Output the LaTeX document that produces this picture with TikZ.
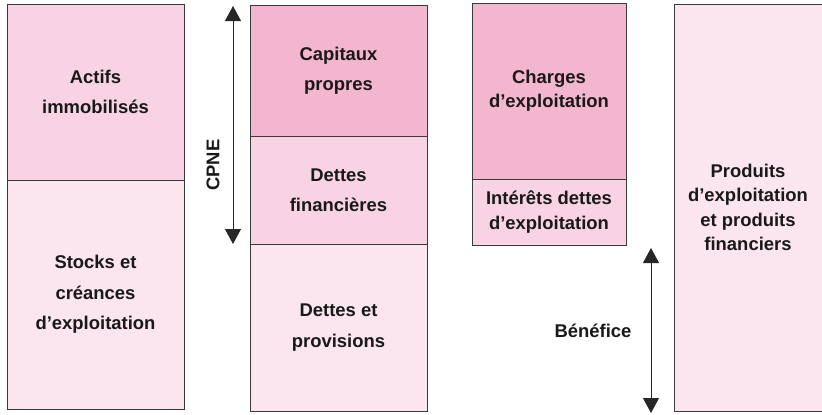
\documentclass[tikz,border=0pt]{standalone}
\usepackage{fontspec}
\setmainfont{Liberation Sans}
\usetikzlibrary{arrows.meta}
\definecolor{pinkA}{HTML}{F4B5CE}
\definecolor{pinkB}{HTML}{F8D3E4}
\definecolor{pinkC}{HTML}{FBE5EF}
\definecolor{edge}{HTML}{3A3A3A}
\tikzset{
  boxstyle/.style={draw=edge, line width=0.9bp, inner sep=0pt, outer sep=0pt, anchor=north west, align=center, text=black!90},
  leftfont/.style={font=\fontsize{18.5}{30.5}\selectfont\bfseries},
  rightfont/.style={font=\fontsize{18.5}{24.5}\selectfont\bfseries},
  dblarrow/.style={line width=0.9bp, draw=black!85, {Triangle[width=16bp,length=15bp]}-{Triangle[width=16bp,length=15bp]}},
  lbl/.style={font=\fontsize{18.5}{22}\selectfont\bfseries, inner sep=0pt, text=black!90}
}
\begin{document}
\begin{tikzpicture}[x=1bp,y=-1bp]
\useasboundingbox (0,0) rectangle (822,414);
% column 1
\node[boxstyle, leftfont, fill=pinkB, minimum width=177bp, minimum height=176bp] (actifs) at (7,4) {Actifs\\immobilisés};
\node[boxstyle, leftfont, fill=pinkC, minimum width=177bp, minimum height=229bp] (stocks) at (7,180) {Stocks et\\créances\\d’exploitation};
% column 2
\node[boxstyle, leftfont, fill=pinkA, minimum width=177bp, minimum height=131bp] (capitaux) at (250,5) {Capitaux\\propres};
\node[boxstyle, leftfont, fill=pinkB, minimum width=177bp, minimum height=108bp] (dettesfin) at (250,136) {Dettes\\financières};
\node[boxstyle, leftfont, fill=pinkC, minimum width=177bp, minimum height=167bp] (dettesprov) at (250,244) {Dettes et\\provisions};
% column 3
\node[boxstyle, rightfont, fill=pinkA, minimum width=154bp, minimum height=176bp] (charges) at (472,3) {Charges\\d’exploitation};
\node[boxstyle, rightfont, fill=pinkB, minimum width=154bp, minimum height=66bp] (interets) at (472,179) {Intérêts dettes\\d’exploitation};
% column 4
\node[boxstyle, rightfont, fill=pinkC, minimum width=148bp, minimum height=407bp] (produits) at (674,4) {Produits\\d’exploitation\\et produits\\financiers};
% CPNE arrow
\coordinate (cpneTop) at (233,6);
\coordinate (cpneBot) at (233,244);
\draw[dblarrow] (cpneTop) -- (cpneBot);
\node[lbl, rotate=90] (cpne) at (213,165) {CPNE};
% Benefice arrow
\coordinate (benTop) at (651,248);
\coordinate (benBot) at (651,413);
\draw[dblarrow] (benTop) -- (benBot);
\node[lbl] (benefice) at (593,331) {Bénéfice};
\end{tikzpicture}
\end{document}
